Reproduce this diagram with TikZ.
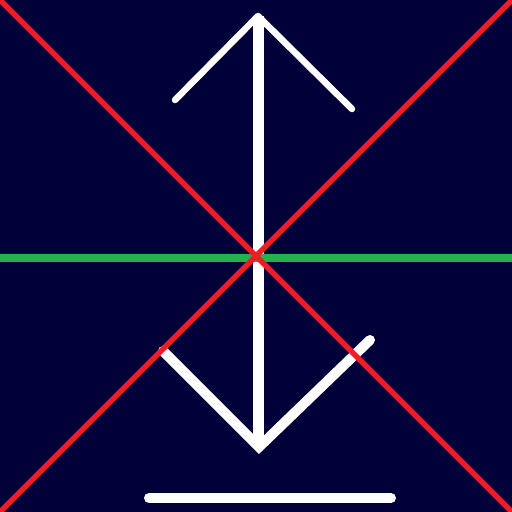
\documentclass[tikz,border=0pt]{standalone}
\definecolor{bgnavy}{HTML}{020038}
\definecolor{xred}{HTML}{EE1C25}
\definecolor{hgreen}{HTML}{22B14C}
\begin{document}
\begin{tikzpicture}[x=1pt,y=-1pt,
  wline/.style={draw=white,line cap=round,line join=round}]
\fill[bgnavy] (0,0) rectangle (512,512);
\useasboundingbox (0,0) rectangle (512,512);
% white arrow
\draw[wline,line width=11pt,line cap=butt] (258,16) -- (258,446);
\draw[wline,line width=6.5pt] (175,100) -- (258,16) -- (352,109);
\draw[wline,line width=10pt,line join=miter] (163,351) -- (259,447) -- (370,340);
\draw[wline,line width=10pt] (149,498) -- (391,498);
% green horizontal
\draw[hgreen,line width=8pt] (0,258) -- (512,258);
% red diagonals
\draw[xred,line width=5.5pt] (0,0) -- (512,512);
\draw[xred,line width=5.5pt] (512,0) -- (0,512);
\end{tikzpicture}
\end{document}
